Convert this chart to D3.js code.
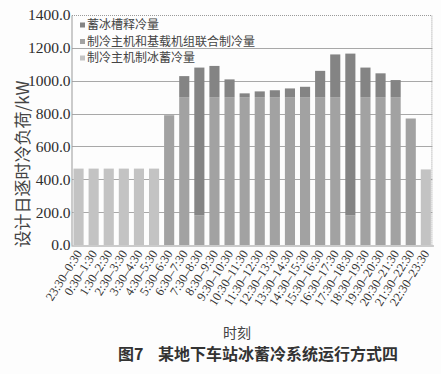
<!DOCTYPE html>
<html>
<head>
<meta charset="utf-8">
<script src="https://cdn.jsdelivr.net/npm/d3@7"></script>
<style>
  body { margin: 0; background: #fdfdfd; }
  svg { display: block; }
</style>
</head>
<body>
<div id="chart"></div>
<script>
// hourly periods (x categories)
var periods = ['23:30–0:30', '0:30–1:30', '1:30–2:30', '2:30–3:30', '3:30–4:30', '4:30–5:30',
  '5:30–6:30', '6:30–7:30', '7:30–8:30', '8:30–9:30', '9:30–10:30', '10:30–11:30',
  '11:30–12:30', '12:30–13:30', '13:30–14:30', '14:30–15:30', '15:30–16:30', '16:30–17:30',
  '17:30–18:30', '18:30–19:30', '19:30–20:30', '20:30–21:30', '21:30–22:30', '22:30–23:30'];

// stacked from the bottom up
var iceMaking = [465, 465, 465, 465, 465, 465, 0, 0, 0, 0, 0, 0,
  0, 0, 0, 0, 0, 0, 0, 0, 0, 0, 0, 460];
var combined = [0, 0, 0, 0, 0, 0, 790, 900, 180, 900, 900, 900,
  900, 900, 900, 900, 900, 900, 180, 900, 900, 900, 770, 0];
var iceRelease = [0, 0, 0, 0, 0, 0, 0, 128, 900, 190, 108, 23,
  35, 42, 53, 63, 160, 260, 985, 180, 145, 104, 0, 0];

var seriesNames = ['制冷主机制冰蓄冷量', '制冷主机和基载机组联合制冷量', '蓄冰槽释冷量'];
var seriesColors = ['#c3c3c3', '#a2a2a2', '#848484'];
var yTicks = [0, 200, 400, 600, 800, 1000, 1200, 1400];

var width = 441, height = 374;
var plotLeft = 71, plotRight = 433.4, plotTop = 15, plotBottom = 245;
var serif = '"Liberation Serif", "DejaVu Serif", serif';
var cjk = '"Noto Sans CJK SC", sans-serif';

var svg = d3.select('#chart').append('svg')
  .attr('width', width)
  .attr('height', height);

var x = d3.scaleBand()
  .domain(periods)
  .range([plotLeft, plotRight])
  .paddingInner(0.33)
  .paddingOuter(0.165);

var y = d3.scaleLinear()
  .domain([0, 1400])
  .range([plotBottom, plotTop]);

// gridlines
svg.append('g').selectAll('line')
  .data(yTicks.slice(1, -1))
  .enter().append('line')
  .attr('x1', plotLeft + 1).attr('x2', plotRight - 1)
  .attr('y1', function(d) { return Math.round(y(d)) + 0.5; })
  .attr('y2', function(d) { return Math.round(y(d)) + 0.5; })
  .attr('stroke', '#a8a8a8')
  .attr('stroke-width', 1);

// dotted frame on top and right
svg.append('path')
  .attr('d', 'M' + (plotLeft + 1) + ',' + (y(1400) + 0.5) + 'H' + (plotRight - 1.5) + 'V' + plotBottom)
  .attr('fill', 'none')
  .attr('stroke', '#9a9a9a')
  .attr('stroke-dasharray', '1,1');

// build stack
var rows = periods.map(function(p, i) {
  return { period: p, a: iceMaking[i], b: combined[i], c: iceRelease[i] };
});
var stack = d3.stack().keys(['a', 'b', 'c'])(rows);

svg.append('g').selectAll('g')
  .data(stack)
  .enter().append('g')
  .attr('fill', function(d, i) { return seriesColors[i]; })
  .selectAll('rect')
  .data(function(d) { return d; })
  .enter().append('rect')
  .attr('x', function(d) { return x(d.data.period); })
  .attr('width', x.bandwidth())
  .attr('y', function(d) { return y(d[1]); })
  .attr('height', function(d) { return y(d[0]) - y(d[1]); });

// axes
var yAxis = svg.append('g')
  .attr('transform', 'translate(' + (plotLeft + 0.5) + ',0)')
  .call(d3.axisLeft(y).tickValues(yTicks).tickSize(0).tickPadding(1)
    .tickFormat(d3.format('.1f')));
yAxis.attr('font-family', null);
yAxis.select('.domain').attr('stroke', '#999');
yAxis.selectAll('text')
  .style('font-family', serif)
  .style('font-size', '15.5px')
  .attr('fill', '#2e2e2e');

var xAxis = svg.append('g')
  .attr('transform', 'translate(0,' + (plotBottom + 0.5) + ')')
  .call(d3.axisBottom(x).tickSize(0).tickPadding(0));
xAxis.attr('font-family', null);
xAxis.select('.domain').attr('stroke', '#999');
xAxis.selectAll('text')
  .style('font-family', serif)
  .style('font-size', '12.5px')
  .attr('fill', '#333')
  .attr('text-anchor', 'end')
  .attr('dy', 0)
  .attr('transform', 'translate(4,8) rotate(-58)');

// legend
var legend = svg.append('g').selectAll('g')
  .data([2, 1, 0])
  .enter().append('g')
  .attr('transform', function(d, i) { return 'translate(80,' + (25 + i * 16.5) + ')'; });
legend.append('rect')
  .attr('x', 0).attr('y', -2.5)
  .attr('width', 5).attr('height', 5)
  .attr('fill', function(d) { return seriesColors[d]; });
legend.append('text')
  .attr('x', 7).attr('dy', '0.35em')
  .style('font-family', cjk)
  .style('font-size', '12px')
  .attr('fill', '#444')
  .text(function(d) { return seriesNames[d]; });

// axis titles
svg.append('text')
  .attr('transform', 'translate(23,164) rotate(-90)')
  .attr('text-anchor', 'middle')
  .attr('dy', '0.35em')
  .style('font-family', cjk)
  .style('font-size', '17px')
  .attr('fill', '#444')
  .text('设计日逐时冷负荷/kW');

svg.append('text')
  .attr('x', 237).attr('y', 333)
  .attr('text-anchor', 'middle')
  .attr('dy', '0.35em')
  .style('font-family', cjk)
  .style('font-size', '14px')
  .attr('fill', '#444')
  .text('时刻');

// caption
var caption = svg.append('g')
  .style('font-family', cjk)
  .style('font-size', '16px')
  .style('font-weight', 'bold')
  .attr('fill', '#333');
caption.append('text')
  .attr('x', 118).attr('y', 354).attr('dy', '0.35em')
  .text('图7');
caption.append('text')
  .attr('x', 158).attr('y', 354).attr('dy', '0.35em')
  .text('某地下车站冰蓄冷系统运行方式四');
</script>
</body>
</html>
